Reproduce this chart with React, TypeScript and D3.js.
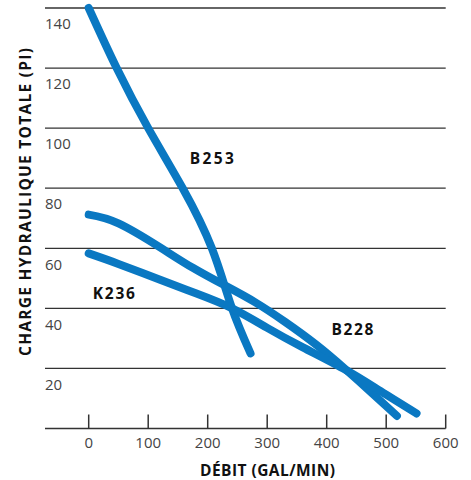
import React from "react";
import * as d3 from "d3";

const xTicks = [0, 100, 200, 300, 400, 500, 600];
const yTicks = [20, 40, 60, 80, 100, 120, 140];

const b253Flow = [0, 47, 100, 158, 207, 240, 272];
const b253Head = [140, 120, 100, 80, 60, 40.5, 25];

const b228Flow = [0, 50, 120, 175, 230, 280, 330, 383, 431, 475, 518];
const b228Head = [71.2, 68.3, 60.3, 53.5, 47.5, 42, 35.5, 27.8, 19.8, 12, 4.2];

const k236Flow = [0, 50, 120, 180, 241, 300, 360, 433, 490, 551];
const k236Head = [58.3, 54.8, 49.5, 45, 40, 33.5, 27, 19.4, 12.5, 5];

const seriesNames = ["B253", "B228", "K236"];
const labelFlow = [170, 408, 7];
const labelHead = [90, 33, 45];

const W = 471;
const H = 480;
const BLUE = "#0a78c2";
const FONT = "'Open Sans', sans-serif";

export default function App() {
  const x = d3.scaleLinear().domain([0, 600]).range([88.7, 445.7]);
  const y = d3.scaleLinear().domain([0, 140]).range([428.5, 8]);
  const line = d3
    .line<[number, number]>()
    .x((d) => x(d[0]))
    .y((d) => y(d[1]))
    .curve(d3.curveNatural);

  const zip = (a: number[], b: number[]) => a.map((v, i) => [v, b[i]] as [number, number]);
  const series = [
    { name: seriesNames[0], d: line(zip(b253Flow, b253Head)) },
    { name: seriesNames[1], d: line(zip(b228Flow, b228Head)) },
    { name: seriesNames[2], d: line(zip(k236Flow, k236Head)) },
  ];
  const labelWidths = [44, 42, 42];

  const left = 45;
  const right = x(600);

  return (
    <svg
      width={W}
      height={H}
      style={{ position: "absolute", left: 0, top: 0, background: "#fff" }}
      fontFamily={FONT}
    >
      {yTicks.map((t) => (
        <g key={t}>
          <line x1={left} x2={right} y1={y(t)} y2={y(t)} stroke="#333" strokeWidth={1.3} />
          <text x={left} y={y(t) + 16} dy="0.35em" fontSize={15} fill="#444">
            {t}
          </text>
        </g>
      ))}
      <line x1={left} x2={right} y1={y(0)} y2={y(0)} stroke="#333" strokeWidth={1.5} />
      {xTicks.map((t) => (
        <g key={t}>
          <line x1={x(t)} x2={x(t)} y1={y(0) - 14} y2={y(0)} stroke="#333" strokeWidth={1.5} />
          <text x={x(t)} y={443} dy="0.35em" textAnchor="middle" fontSize={15} fill="#444">
            {t}
          </text>
        </g>
      ))}
      {series.map((s) => (
        <path
          key={s.name}
          d={s.d || ""}
          fill="none"
          stroke={BLUE}
          strokeWidth={8}
          strokeLinecap="round"
          strokeLinejoin="round"
        />
      ))}
      {seriesNames.map((n, i) => (
        <text
          key={n}
          x={x(labelFlow[i])}
          y={y(labelHead[i])}
          dy="0.35em"
          fontSize={15.5}
          fontWeight={700}
          fill="#111"
          textLength={labelWidths[i]}
          lengthAdjust="spacing"
        >
          {n}
        </text>
      ))}
      <text
        x={267.5}
        y={471}
        dy="0.35em"
        textAnchor="middle"
        fontSize={15.5}
        fontWeight={700}
        fill="#111"
        textLength={135}
        lengthAdjust="spacing"
      >
        DÉBIT (GAL/MIN)
      </text>
      <text
        transform="translate(26,202) rotate(-90)"
        dy="0.35em"
        textAnchor="middle"
        fontSize={15.5}
        fontWeight={700}
        fill="#111"
        textLength={308}
        lengthAdjust="spacing"
      >
        CHARGE HYDRAULIQUE TOTALE (PI)
      </text>
    </svg>
  );
}
